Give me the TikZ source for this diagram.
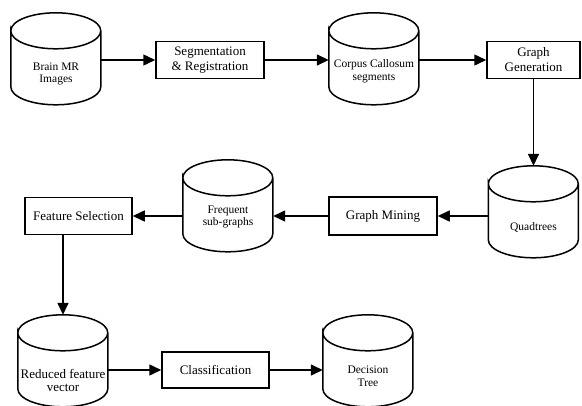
\documentclass[tikz,border=0pt]{standalone}
\usepackage{fontspec}
\setmainfont{Liberation Serif}
\usetikzlibrary{arrows.meta}

\tikzset{
	box/.style={draw, line width=1.5pt, font=\fontsize{13}{15}\selectfont, align=center, inner sep=2pt},
	db/.style={minimum width=90pt, minimum height=92pt, inner sep=0pt},
	dbtxt/.style={font=\fontsize{11.5}{12.5}\selectfont, align=center, yshift=-15pt},
	arr/.style={line width=1.5pt, -{Triangle[length=12pt,width=11pt]}}
}

\begin{document}
\begin{tikzpicture}[x=1pt, y=-1pt]
		\useasboundingbox (0,0) rectangle (582,405);
		% first row
		\node [db, label={[dbtxt]center:Brain MR\\Images}] at (56, 59) (brain) {};
		\node [box, minimum width=108pt, minimum height=37pt] at (210, 60) (seg) {Segmentation\\\& Registration};
		\node [db, label={[dbtxt, yshift=3pt]center:Corpus Callosum\\segments}] at (374, 59) (corpus) {};
		\node [box, minimum width=93pt, minimum height=37pt] at (533.5, 60) (gen) {Graph\\Generation};
		% second row
		\node [db, label={[dbtxt]center:Quadtrees}] at (533.5, 212) (quad) {};
		\node [box, minimum width=108pt, minimum height=38pt] at (383, 216) (mining) {Graph Mining};
		\node [db, label={[dbtxt, yshift=4pt]center:Frequent\\sub-graphs}] at (228, 206) (freq) {};
		\node [box, minimum width=107pt, minimum height=37pt] at (78.5, 216) (feat) {Feature Selection};
		% third row
		\node [db, label={[dbtxt, yshift=-4pt, font=\fontsize{13}{13}\selectfont]center:Reduced feature\\vector}] at (63, 361) (red) {};
		\node [box, minimum width=107pt, minimum height=36pt] at (215.5, 370) (cls) {Classification};
		\node [db, label={[dbtxt]center:Decision\\Tree}] at (368, 361) (tree) {};
		% cylinder outlines
		\foreach \n in {brain, corpus, quad, freq, red, tree} {
			\draw [line width=1.5pt] (\n.north west) ++(0pt,-18pt)
				arc [start angle=180, end angle=-180, x radius=45pt, y radius=18pt]
				-- ++(0pt,-56pt)
				arc [start angle=180, end angle=360, x radius=45pt, y radius=18pt]
				-- ++(0pt,56pt);
		}
		% connectors
		\draw [arr] (brain.east |- seg.west) -- (seg.west);
		\draw [arr] (seg.east) -- (corpus.west |- seg.east);
		\draw [arr] (corpus.east |- gen.west) -- (gen.west);
		\draw [arr] (gen.south) -- (quad.north);
		\draw [arr] (quad.west |- mining.east) -- (mining.east);
		\draw [arr] (mining.west) -- (freq.east |- mining.west);
		\draw [arr] (freq.west |- feat.east) -- (feat.east);
		\draw [arr] (red.north |- feat.south) -- (red.north);
		\draw [arr] (red.east |- cls.west) -- (cls.west);
		\draw [arr] (cls.east) -- (tree.west |- cls.east);
	\end{tikzpicture}
\end{document}
